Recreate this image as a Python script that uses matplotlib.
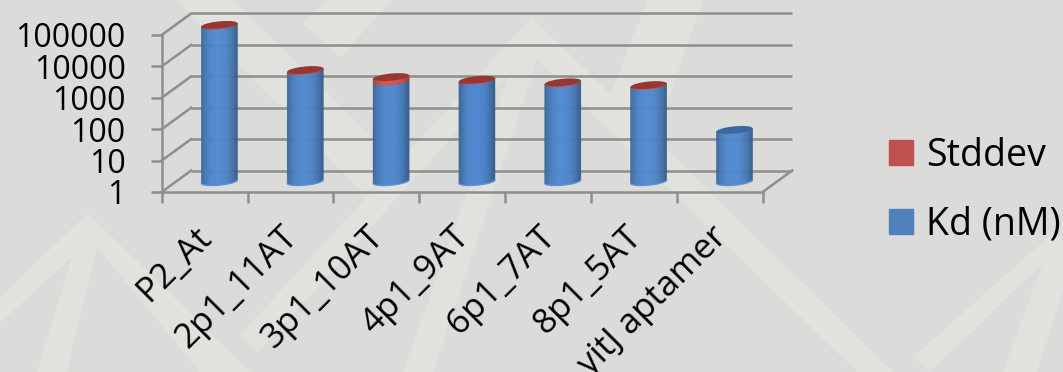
import numpy as np
import matplotlib
matplotlib.use("Agg")
import matplotlib.pyplot as plt
from matplotlib.patches import Patch, Polygon
from matplotlib.transforms import Affine2D, IdentityTransform
from matplotlib.ticker import NullLocator

categories = ["P2_At", "2p1_11AT", "3p1_10AT", "4p1_9AT", "6p1_7AT", "8p1_5AT", "yitJ aptamer"]
kd_nm = [93000, 3300, 1550, 1650, 1370, 1120, 43]
stddev = [2000, 170, 520, 50, 40, 30, 0]
y_ticks = [1, 10, 100, 1000, 10000, 100000]
y_labels = ["1", "10", "100", "1000", "10000", "100000"]

W, H = 1063, 372
GRID = "#8e8e8c"
LW = 1.8
plt.rcParams["font.family"] = ["Open Sans", "DejaVu Sans"]

fig = plt.figure(figsize=(W / 100, H / 100), dpi=100, facecolor="#dbdbd9")

# light chevrons behind everything
shapes = [
    [(0, 297), (88, 213), (250, 372), (200, 372), (97, 247), (67, 372), (37, 372), (72, 257), (0, 323)],
    [(177, 0), (233, 0), (400, 165), (365, 195)],
    [(303, 23), (340, 58), (392, 0), (327, 0)],
    [(532, 17), (893, 372), (857, 372), (537, 60), (433, 372), (403, 372), (510, 72), (258, 353), (240, 335)],
    [(647, 0), (703, 0), (655, 138), (610, 97)],
    [(1053, 233), (913, 357), (930, 372), (1043, 263), (1003, 372), (1037, 372), (1063, 290), (1063, 240)],
]
for s in shapes:
    pts = [(x / W, 1 - y / H) for x, y in s]
    fig.add_artist(Polygon(pts, closed=True, transform=fig.transFigure, fc="#e1e2de", ec="none", zorder=-1))

ax = fig.add_axes([161.7 / W, (H - 192) / H, 601 / W, 157 / H])
ax.patch.set_visible(False)
ax.set_yscale("log")
ax.set_xlim(0, len(categories))
ax.set_ylim(1, 100000)
ax.set_autoscale_on(False)

ax.set_yticks(y_ticks)
ax.set_yticklabels(y_labels, fontsize=23)
ax.yaxis.set_minor_locator(NullLocator())
for label in ax.get_yticklabels():
    label.set_transform(label.get_transform() + Affine2D().translate(0, -2))
ax.set_xticks(np.arange(len(categories) + 1))
ax.set_xticklabels([])
ax.set_xticks(np.arange(len(categories)) + 0.5, minor=True)
ax.set_xticklabels(categories, minor=True, rotation=45, ha="right", va="top",
                   rotation_mode="anchor", fontsize=25)
ax.tick_params(axis="both", which="major", color=GRID, width=LW, length=8)
ax.tick_params(axis="y", pad=18)
ax.tick_params(axis="x", which="minor", length=0, pad=20)
for label in ax.get_xticklabels(minor=True):
    label.set_transform(label.get_transform() + Affine2D().translate(-10, 0))
ax.spines[["top", "right"]].set_visible(False)
ax.spines[["left", "bottom"]].set_color(GRID)
ax.spines[["left", "bottom"]].set_linewidth(LW)

# back wall and floor
DEPTH = np.array([29.5, 21.5])
back = ax.transData + Affine2D().translate(*DEPTH)
ax.hlines(y_ticks, 0, len(categories), colors=GRID, lw=LW, transform=back, clip_on=False, zorder=1)


def to_px(x, v):
    return ax.transData.transform((x, v))


for v in y_ticks:
    p = to_px(0, v)
    ax.plot([p[0], p[0] + DEPTH[0]], [p[1], p[1] + DEPTH[1]], color=GRID, lw=LW,
            transform=IdentityTransform(), clip_on=False, zorder=1)
p = to_px(len(categories), 1)
ax.plot([p[0], p[0] + DEPTH[0]], [p[1], p[1] + DEPTH[1]], color=GRID, lw=LW,
        transform=IdentityTransform(), clip_on=False, zorder=1)

HALF = 18.0
TILT = 1.7
RISE = 3.6
N = 36


def shade(u, dark, mid):
    # u runs -1..1 across the cylinder, brightest a little left of centre
    t = np.clip(1 - np.abs(u + 0.05) ** 2.4, 0, 1)
    return tuple(np.array(dark) * (1 - t) + np.array(mid) * t)


def rgb(c):
    return matplotlib.colors.to_rgb(c)


def cyl_side(cx, y0, y1, dark, mid):
    edges = np.linspace(-1, 1, N + 1)
    for a, b in zip(edges[:-1], edges[1:]):
        us = np.linspace(a, b, 4)
        xs = cx + HALF * us
        low0 = y0 + TILT * us - RISE * np.sqrt(1 - us**2)
        low1 = y1 + TILT * us - RISE * np.sqrt(1 - us**2)
        ax.fill(np.r_[xs, xs[::-1]], np.r_[low0, low1[::-1]], color=shade((a + b) / 2, dark, mid),
                lw=0.4, transform=IdentityTransform(), clip_on=False, zorder=3)


def cap(cx, y, color):
    th = np.linspace(0, 2 * np.pi, 80)
    us = np.cos(th)
    ax.fill(cx + HALF * us, y + TILT * us + RISE * np.sin(th), color=color, lw=0,
            transform=IdentityTransform(), clip_on=False, zorder=4)


for i, (k, s) in enumerate(zip(kd_nm, stddev)):
    base = to_px(i + 0.5, 1) + DEPTH / 2
    top_k = to_px(i + 0.5, k)[1] + DEPTH[1] / 2
    top_s = to_px(i + 0.5, k + s)[1] + DEPTH[1] / 2
    cx = base[0]
    # rim under the blue side
    th = np.linspace(np.pi, 2 * np.pi, 40)
    ax.plot(cx + HALF * np.cos(th), base[1] + TILT * np.cos(th) + RISE * np.sin(th) - 0.3, color="#5b93d8",
            lw=1, transform=IdentityTransform(), clip_on=False, zorder=5)
    cyl_side(cx, base[1], top_k, rgb("#38608f"), rgb("#5089d0"))
    if s > 0:
        cyl_side(cx, top_k, top_s, rgb("#a33f3c"), rgb("#d9534f"))
        cap(cx, top_s, "#953735")
    else:
        cap(cx, top_k, "#3a689c")

handles = [Patch(color="#c0504d"), Patch(color="#4f81bd")]
fig.legend(handles, ["Stddev", "Kd (nM)"], loc="upper left", bbox_to_anchor=(889 / W, 1 - 137 / H),
           frameon=False, fontsize=27, handlelength=0.65, handleheight=0.65, handletextpad=0.35,
           labelspacing=0.82, borderpad=0, borderaxespad=0)

fig.savefig("out.png", dpi=100, facecolor=fig.get_facecolor())
